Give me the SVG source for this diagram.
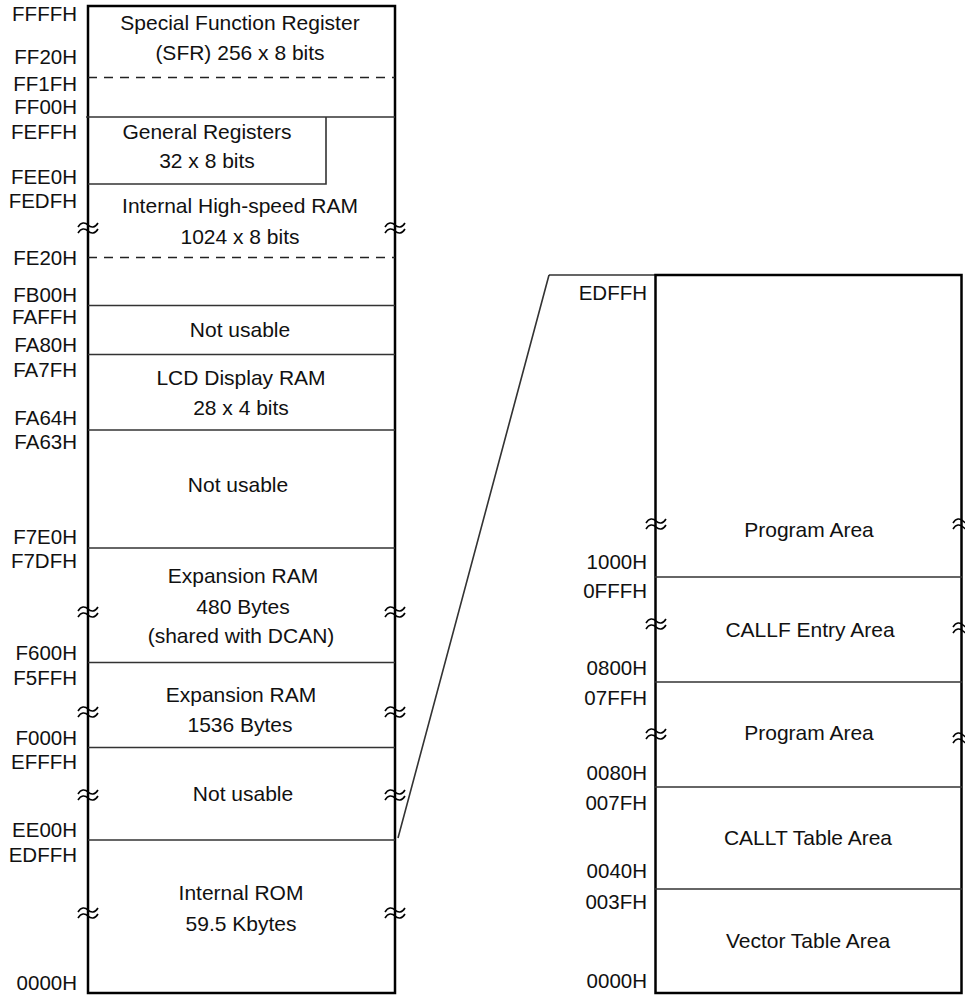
<svg xmlns="http://www.w3.org/2000/svg" width="965" height="995" viewBox="0 0 965 995">
<defs>
<style>
text{font-family:"Liberation Sans",Arial,sans-serif;font-size:21px;fill:#111}
.a{text-anchor:end;font-size:20.5px}
.c{text-anchor:middle}
.border{fill:none;stroke:#000;stroke-width:2.5}
.sep{stroke:#333;stroke-width:1.6;fill:none}
.dash{stroke:#222;stroke-width:1.5;stroke-dasharray:9 7;fill:none}
.sq{fill:none;stroke:#000;stroke-width:1.6}
</style>
<g id="squig">
<path d="M-10,-1 C-7,-6 -3,-6 0,-3 S7,0 10,-5 M-10,5 C-7,0 -3,0 0,3 S7,6 10,1"/>
</g>
</defs>
<rect width="965" height="995" fill="#fff"/>

<g id="connectors">
<path class="sep" d="M549,275 H655 M549,275 L398,838"/>
</g>

<g id="left-map">
<rect class="border" x="88" y="6" width="307" height="987"/>
<line class="dash" x1="88" y1="77.5" x2="395" y2="77.5"/>
<line class="sep" x1="86" y1="117" x2="395" y2="117"/>
<path class="sep" d="M326,117 V184 H88"/>
<line class="dash" x1="88" y1="257.5" x2="395" y2="257.5"/>
<line class="sep" x1="88" y1="305.5" x2="395" y2="305.5"/>
<line class="sep" x1="88" y1="354.5" x2="395" y2="354.5"/>
<line class="sep" x1="88" y1="430" x2="395" y2="430"/>
<line class="sep" x1="88" y1="548" x2="395" y2="548"/>
<line class="sep" x1="88" y1="662.5" x2="395" y2="662.5"/>
<line class="sep" x1="88" y1="747.5" x2="395" y2="747.5"/>
<line class="sep" x1="88" y1="840" x2="395" y2="840"/>
</g>

<g id="sfr"><text class="c" x="240" y="30">Special Function Register</text><text class="c" x="240" y="60">(SFR) 256 x 8 bits</text></g>
<g id="general-registers"><text class="c" x="207" y="139">General Registers</text><text class="c" x="207" y="168">32 x 8 bits</text></g>
<g id="hs-ram"><text class="c" x="240" y="213">Internal High-speed RAM</text><text class="c" x="240" y="244">1024 x 8 bits</text></g>
<g id="not-usable-1"><text class="c" x="240" y="337">Not usable</text></g>
<g id="lcd-ram"><text class="c" x="241" y="385">LCD Display RAM</text><text class="c" x="241" y="415">28 x 4 bits</text></g>
<g id="not-usable-2"><text class="c" x="238" y="492">Not usable</text></g>
<g id="exp-ram-1"><text class="c" x="243" y="583">Expansion RAM</text><text class="c" x="243" y="614">480 Bytes</text><text class="c" x="241" y="643">(shared with DCAN)</text></g>
<g id="exp-ram-2"><text class="c" x="241" y="702">Expansion RAM</text><text class="c" x="240" y="732">1536 Bytes</text></g>
<g id="not-usable-3"><text class="c" x="243" y="801">Not usable</text></g>
<g id="int-rom"><text class="c" x="241" y="900">Internal ROM</text><text class="c" x="241" y="931">59.5 Kbytes</text></g>

<g id="left-squiggles" class="sq">
<use href="#squig" x="88" y="228"/><use href="#squig" x="395" y="228"/>
<use href="#squig" x="88" y="612"/><use href="#squig" x="395" y="612"/>
<use href="#squig" x="88" y="712"/><use href="#squig" x="395" y="712"/>
<use href="#squig" x="88" y="795"/><use href="#squig" x="395" y="795"/>
<use href="#squig" x="88" y="913"/><use href="#squig" x="395" y="913"/>
</g>

<g id="left-addresses">
<text class="a" x="77" y="21">FFFFH</text>
<text class="a" x="77" y="64">FF20H</text>
<text class="a" x="77" y="91">FF1FH</text>
<text class="a" x="77" y="114">FF00H</text>
<text class="a" x="77" y="139">FEFFH</text>
<text class="a" x="77" y="184">FEE0H</text>
<text class="a" x="77" y="208">FEDFH</text>
<text class="a" x="77" y="265">FE20H</text>
<text class="a" x="77" y="302">FB00H</text>
<text class="a" x="77" y="324">FAFFH</text>
<text class="a" x="77" y="352">FA80H</text>
<text class="a" x="77" y="377">FA7FH</text>
<text class="a" x="77" y="425">FA64H</text>
<text class="a" x="77" y="449">FA63H</text>
<text class="a" x="77" y="544">F7E0H</text>
<text class="a" x="77" y="568">F7DFH</text>
<text class="a" x="77" y="660">F600H</text>
<text class="a" x="77" y="685">F5FFH</text>
<text class="a" x="77" y="745">F000H</text>
<text class="a" x="77" y="769">EFFFH</text>
<text class="a" x="77" y="837">EE00H</text>
<text class="a" x="77" y="862">EDFFH</text>
<text class="a" x="77" y="990">0000H</text>
</g>

<g id="right-map">
<rect class="border" x="655.5" y="275" width="306" height="718"/>
<line class="sep" x1="655" y1="577" x2="962" y2="577"/>
<line class="sep" x1="655" y1="682" x2="962" y2="682"/>
<line class="sep" x1="655" y1="787" x2="962" y2="787"/>
<line class="sep" x1="655" y1="889" x2="962" y2="889"/>
</g>
<g id="program-area-1"><text class="c" x="809" y="537">Program Area</text></g>
<g id="callf"><text class="c" x="810" y="637">CALLF Entry Area</text></g>
<g id="program-area-2"><text class="c" x="809" y="740">Program Area</text></g>
<g id="callt"><text class="c" x="808" y="845">CALLT Table Area</text></g>
<g id="vector"><text class="c" x="808" y="948">Vector Table Area</text></g>

<g id="right-squiggles" class="sq">
<use href="#squig" x="656" y="524"/><use href="#squig" x="963" y="524"/>
<use href="#squig" x="656" y="624"/><use href="#squig" x="963" y="628"/>
<use href="#squig" x="656" y="734"/><use href="#squig" x="963" y="738"/>
</g>

<g id="right-addresses">
<text class="a" x="647" y="300">EDFFH</text>
<text class="a" x="647" y="569">1000H</text>
<text class="a" x="647" y="598">0FFFH</text>
<text class="a" x="647" y="675">0800H</text>
<text class="a" x="647" y="705">07FFH</text>
<text class="a" x="647" y="780">0080H</text>
<text class="a" x="647" y="810">007FH</text>
<text class="a" x="647" y="878">0040H</text>
<text class="a" x="647" y="909">003FH</text>
<text class="a" x="647" y="988">0000H</text>
</g>
</svg>
